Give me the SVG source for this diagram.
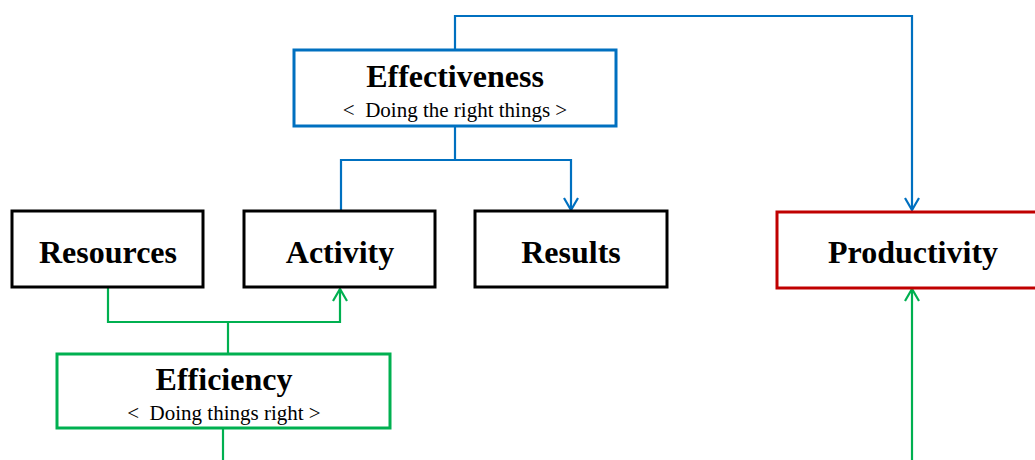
<svg xmlns="http://www.w3.org/2000/svg" width="1035" height="460" viewBox="0 0 1035 460">
<style>
.box{fill:#fff;stroke-width:3}
.k{stroke:#000}
.b{stroke:#0070C0}
.g{stroke:#00B050}
.r{stroke:#C00000}
.t{font-family:"Liberation Serif","Times New Roman",serif;font-weight:bold;font-size:32px;fill:#000;text-anchor:middle}
.s{font-family:"Liberation Serif","Times New Roman",serif;font-size:21px;fill:#000;text-anchor:middle}
.c{fill:none;stroke-width:2.2}
</style>
<defs>
<marker id="ab" markerUnits="userSpaceOnUse" markerWidth="16" markerHeight="16" viewBox="0 0 16 16" refX="13" refY="8" orient="auto"><path d="M1,1 L13,8 L1,15" fill="none" stroke="#0070C0" stroke-width="2.2"/></marker>
<marker id="ag" markerUnits="userSpaceOnUse" markerWidth="16" markerHeight="16" viewBox="0 0 16 16" refX="13" refY="8" orient="auto"><path d="M1,1 L13,8 L1,15" fill="none" stroke="#00B050" stroke-width="2.2"/></marker>
</defs>
<rect width="1035" height="460" fill="#fff"/>
<g id="connectors">
<path class="c b" d="M455,50 V16 H912 V210" marker-end="url(#ab)"/>
<path class="c b" d="M455,126 V160"/>
<path class="c b" d="M341,211 V160 H571 V210" marker-end="url(#ab)"/>
<path class="c g" d="M108,288 V322 H340 V289" marker-end="url(#ag)"/>
<path class="c g" d="M228,354 V322"/>
<path class="c g" d="M223,428 V460"/>
<path class="c g" d="M912,460 V289" marker-end="url(#ag)"/>
</g>
<g id="effectiveness">
<rect class="box b" x="294" y="50" width="322" height="76"/>
<text class="t" x="455" y="87">Effectiveness</text>
<text class="s" x="455" y="117" xml:space="preserve">&lt;  Doing the right things &gt;</text>
</g>
<g id="resources">
<rect class="box k" x="12" y="211" width="191" height="76"/>
<text class="t" x="108" y="263">Resources</text>
</g>
<g id="activity">
<rect class="box k" x="244" y="211" width="191" height="76"/>
<text class="t" x="340" y="263">Activity</text>
</g>
<g id="results">
<rect class="box k" x="475" y="211" width="192" height="76"/>
<text class="t" x="571" y="263">Results</text>
</g>
<g id="productivity">
<rect class="box r" x="777" y="212" width="272" height="76"/>
<text class="t" x="913" y="263">Productivity</text>
</g>
<g id="efficiency">
<rect class="box g" x="57" y="354" width="333" height="74"/>
<text class="t" x="224" y="390">Efficiency</text>
<text class="s" x="224" y="420" xml:space="preserve">&lt;  Doing things right &gt;</text>
</g>
</svg>
